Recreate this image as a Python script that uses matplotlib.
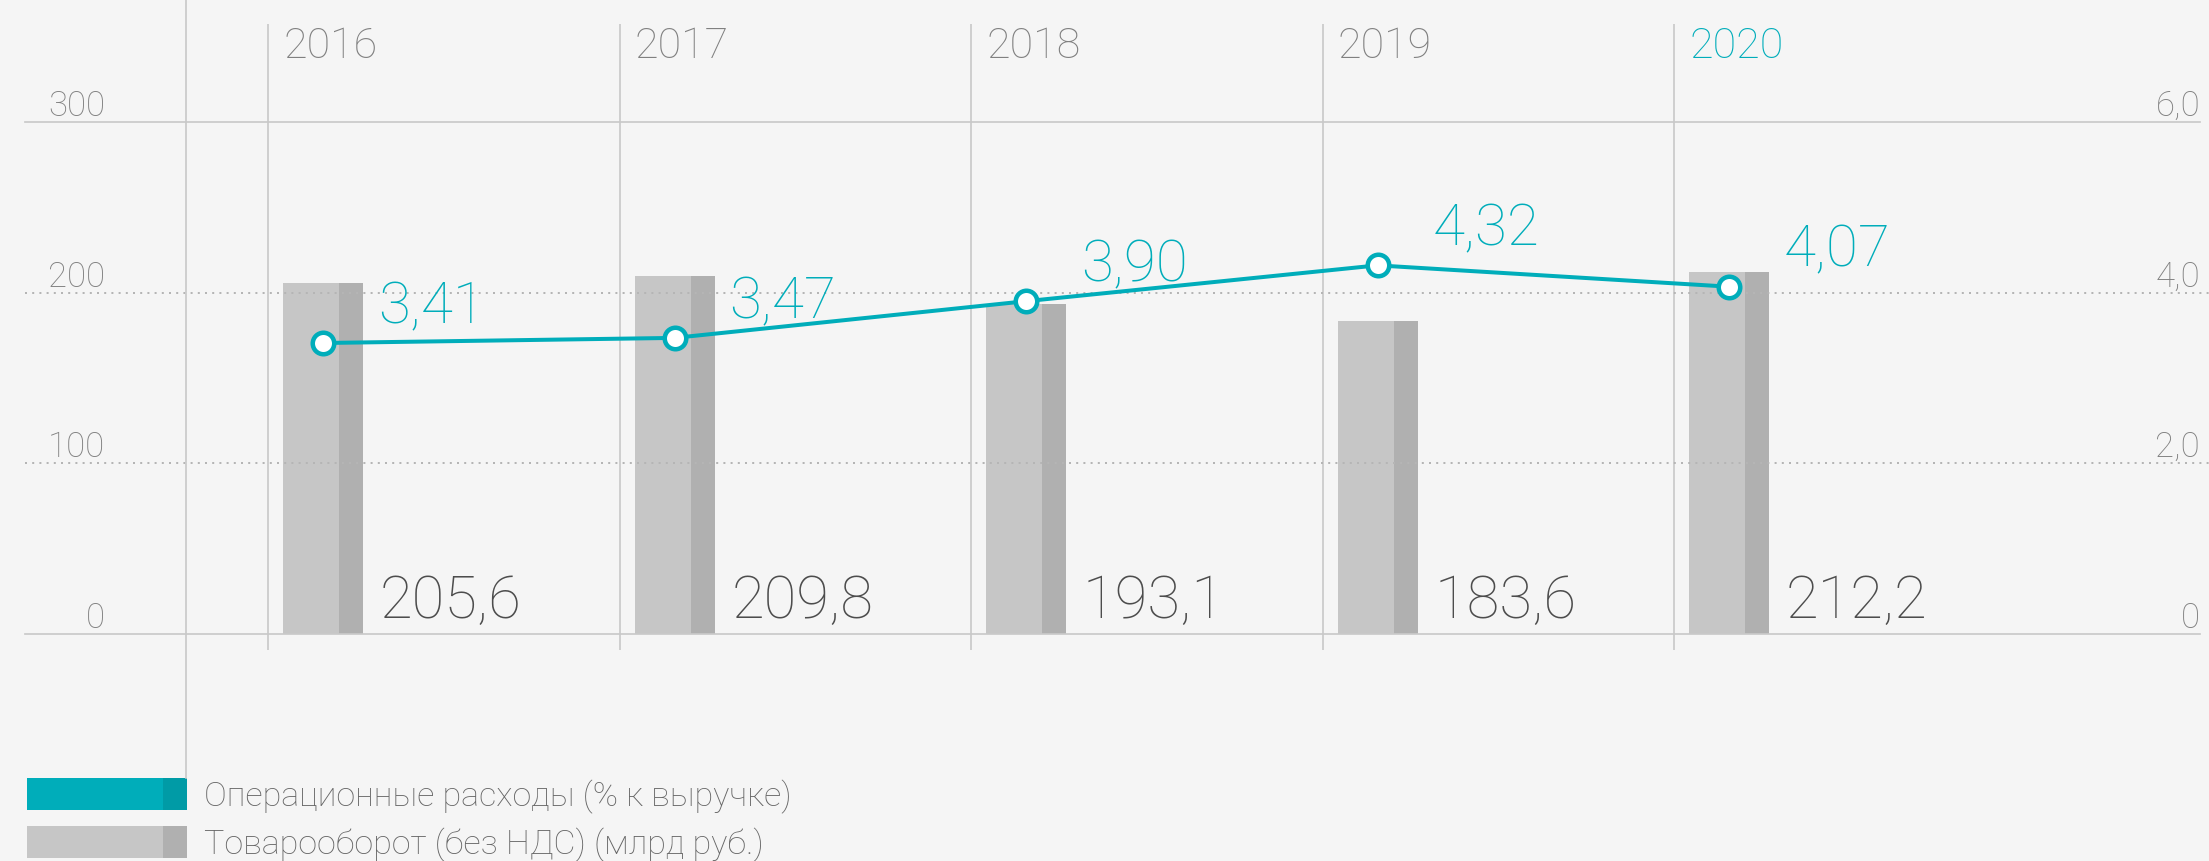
import numpy as np
import matplotlib.pyplot as plt
from matplotlib.patches import Rectangle
from matplotlib.lines import Line2D

# data
years = ['2016', '2017', '2018', '2019', '2020']
turnover = [205.6, 209.8, 193.1, 183.6, 212.2]
turnover_labels = ['205,6', '209,8', '193,1', '183,6', '212,2']
opex_pct = [3.41, 3.47, 3.90, 4.32, 4.07]
opex_labels = ['3,41', '3,47', '3,90', '4,32', '4,07']
left_ticks = [0, 100, 200, 300]
left_ticklabels = ['0', '100', '200', '300']
right_ticks = [0, 2, 4, 6]
right_ticklabels = ['0', '2,0', '4,0', '6,0']
legend_labels = ['Операционные расходы (% к выручке)',
                 'Товарооборот (без НДС) (млрд руб.)']

# colours
BG = '#f5f5f5'
TEAL = '#00adba'
TEAL_DARK = '#009ba6'
LIGHT = '#c6c6c6'
DARK = '#b0b0b0'
GRID = '#c9c9c9'
DOTS = '#b5b5b5'
GRAY = '#808080'
VALUE = '#4d4d4d'
LEG = '#666666'

plt.rcParams['font.family'] = ['Roboto', 'DejaVu Sans']
plt.rcParams['font.weight'] = 'light'

W, H = 2209, 862


def pt(v):
    # pixels -> points at dpi 100
    return v * 0.72


fig = plt.figure(figsize=(W / 100, H / 100), dpi=100, facecolor=BG)
ax = fig.add_axes([25 / W, 227 / H, 2175 / W, 512 / H])
ax.set_facecolor(BG)

step = 351.5  # px per category
ax.set_xlim(-(323 - 25) / step, (2200 - 323) / step)
ax.set_ylim(0, 300)

x = np.arange(len(years))
bar_off = -40 / step
light_w = 56 / step
dark_w = 24 / step
ax.bar(x + bar_off, turnover, width=light_w, align='edge', color=LIGHT, zorder=2)
ax.bar(x + bar_off + light_w, turnover, width=dark_w, align='edge', color=DARK, zorder=2)

# dotted gridlines
for yv in left_ticks[1:-1]:
    ax.axhline(yv, xmin=0, xmax=(W - 25) / 2175, color=DOTS, lw=pt(2),
               ls=(0, (1, 2.6)), clip_on=False, zorder=3)

for s in ['left', 'right']:
    ax.spines[s].set_visible(False)
for s in ['top', 'bottom']:
    ax.spines[s].set_color(GRID)
    ax.spines[s].set_linewidth(pt(1.7))

ax.tick_params(axis='x', bottom=False, labelbottom=False)
ax.set_yticks(left_ticks, left_ticklabels)
ax.tick_params(axis='y', length=0, pad=-pt(80), labelsize=25, labelcolor=GRAY)
for t in ax.get_yticklabels():
    t.set_va('bottom')

# year separators
ax.vlines(x - 55 / step, -16 / 512, 1 + 98 / 512, transform=ax.get_xaxis_transform(),
          colors=GRID, lw=pt(1.7), clip_on=False, zorder=1)

# year labels
for i, yr in enumerate(years):
    ax.annotate(yr, (x[i] + bar_off, 1), xycoords=('data', 'axes fraction'),
                xytext=(0, pt(65)), textcoords='offset points',
                ha='left', va='baseline', fontsize=31,
                color=TEAL if i == len(years) - 1 else GRAY)

# bar values
for i, lbl in enumerate(turnover_labels):
    ax.annotate(lbl, (x[i], 0), xytext=(pt(57), pt(17)), textcoords='offset points',
                ha='left', va='baseline', fontsize=43, color=VALUE)

# right axis + line
ax2 = ax.twinx()
ax2.set_ylim(0, 6)
for s in ax2.spines.values():
    s.set_visible(False)
ax2.set_yticks(right_ticks, right_ticklabels)
ax2.tick_params(axis='y', length=0, pad=0, labelsize=25, labelcolor=GRAY)
for t in ax2.get_yticklabels():
    t.set_ha('right')
    t.set_va('bottom')

ax2.plot(x, opex_pct, color=TEAL, lw=pt(4), marker='o', ms=pt(21.5),
         mfc='white', mec=TEAL, mew=pt(4.5), zorder=5, clip_on=False)
for i, lbl in enumerate(opex_labels):
    ax2.annotate(lbl, (x[i], opex_pct[i]), xytext=(pt(55), pt(21)),
                 textcoords='offset points', ha='left', va='baseline',
                 fontsize=42, color=TEAL)

# left vertical axis line
fig.add_artist(Line2D([186 / W, 186 / W], [1, 1 - 779 / H], color=GRID, lw=pt(1.7)))

# legend
sw = [(TEAL, TEAL_DARK, 779), (LIGHT, DARK, 827)]
for (c1, c2, top), lbl in zip(sw, legend_labels):
    fig.add_artist(Rectangle((27 / W, 1 - (top + 32) / H), (163 - 27) / W, 32 / H,
                             color=c1, lw=0))
    fig.add_artist(Rectangle((163 / W, 1 - (top + 32) / H), (187 - 163) / W, 32 / H,
                             color=c2, lw=0))
    fig.text(204 / W, 1 - (top + 27) / H, lbl, fontsize=24.5, color=LEG,
             ha='left', va='baseline')

fig.savefig('out.png', dpi=100, facecolor=BG)
